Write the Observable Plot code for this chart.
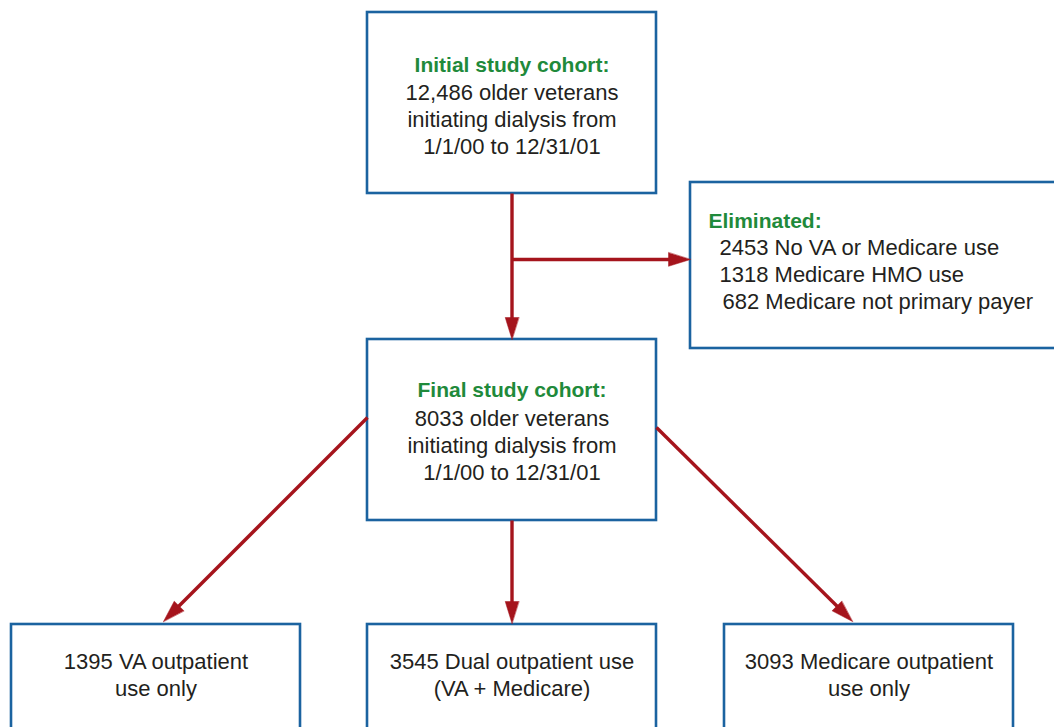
<!DOCTYPE html>
<html>
<head>
<meta charset="utf-8">
<script src="https://cdn.jsdelivr.net/npm/d3@7"></script>
<script src="https://cdn.jsdelivr.net/npm/@observablehq/plot@0.6"></script>
<style>
  html, body { margin: 0; padding: 0; background: #ffffff; overflow: hidden; }
  #chart svg { display: block; }
</style>
</head>
<body>
<div id="chart"></div>
<script>
// ---- Data ----
const stageTitles = ["Initial study cohort:", "Final study cohort:"];
const stageCounts = ["12,486", "8033"];
const stageDescription = ["older veterans", "initiating dialysis from", "1/1/00 to 12/31/01"];
const eliminatedTitle = "Eliminated:";
const eliminatedCounts = ["2453", "1318", "682"];
const eliminatedReasons = ["No VA or Medicare use", "Medicare HMO use", "Medicare not primary payer"];
const outcomeCounts = ["1395", "3545", "3093"];
const outcomeLabels = [["VA outpatient", "use only"], ["Dual outpatient use", "(VA + Medicare)"], ["Medicare outpatient", "use only"]];

// ---- Layout (pixel space of the flowchart) ----
const W = 1054, H = 727;
const stageBoxes = [
  {x1: 367, x2: 656, y1: 12, y2: 193, titleY: 65},
  {x1: 367, x2: 656, y1: 339, y2: 520, titleY: 390}
];
const elimBox = {x1: 690, x2: 1075, y1: 182, y2: 348, titleX: 708, textX: 719, titleY: 221};
const outcomeBoxes = [
  {x1: 11, x2: 300, y1: 624, y2: 760},
  {x1: 367, x2: 656, y1: 624, y2: 760},
  {x1: 724, x2: 1013, y1: 624, y2: 760}
];
const lineH = 27;
const outcomeY = 661;
const elimSplitY = 259;

const red = "#a5141c", blue = "#1b63a0", green = "#1f8a3b", ink = "#231f20";

// boxes
const boxes = [...stageBoxes, elimBox, ...outcomeBoxes];

// centred text lines
const titles = stageTitles.map((t, i) => ({text: t, x: (stageBoxes[i].x1 + stageBoxes[i].x2) / 2, y: stageBoxes[i].titleY}));
const bodyLines = [];
stageTitles.forEach((t, i) => {
  const b = stageBoxes[i];
  const lines = [`${stageCounts[i]} ${stageDescription[0]}`, stageDescription[1], stageDescription[2]];
  lines.forEach((l, j) => bodyLines.push({text: l, x: (b.x1 + b.x2) / 2, y: b.titleY + lineH * (j + 1) + (i === 1 ? 1 : 0)}));
});
outcomeCounts.forEach((c, i) => {
  const b = outcomeBoxes[i];
  const lines = [`${c} ${outcomeLabels[i][0]}`, outcomeLabels[i][1]];
  lines.forEach((l, j) => bodyLines.push({text: l, x: (b.x1 + b.x2) / 2, y: outcomeY + lineH * j}));
});
// left-aligned text lines (eliminated box)
const elimLines = eliminatedCounts.map((c, j) => ({
  text: `${c} ${eliminatedReasons[j]}`,
  x: elimBox.textX + (c.length < 4 ? 3 : 0),
  y: elimBox.titleY + lineH * (j + 1) - 0.5
}));
const elimTitle = [{text: eliminatedTitle, x: elimBox.titleX, y: elimBox.titleY}];

// arrows (start -> tip)
const s0 = stageBoxes[0], s1 = stageBoxes[1];
const cx = (s0.x1 + s0.x2) / 2;
const arrows = [
  {x1: cx, y1: s0.y2, x2: cx, y2: s1.y1},
  {x1: cx, y1: elimSplitY, x2: elimBox.x1, y2: elimSplitY},
  {x1: s1.x1, y1: 417, x2: 163, y2: outcomeBoxes[0].y1 - 3},
  {x1: cx, y1: s1.y2, x2: cx, y2: outcomeBoxes[1].y1 - 1},
  {x1: s1.x2, y1: 427, x2: 852, y2: outcomeBoxes[2].y1 - 3}
].map(a => {
  const dx = a.x2 - a.x1, dy = a.y2 - a.y1, len = Math.hypot(dx, dy);
  const back = 12;
  return {...a, lx2: a.x2 - dx / len * back, ly2: a.y2 - dy / len * back,
          rotate: Math.atan2(dx, -dy) * 180 / Math.PI};
});

const triangle = {
  draw(context, l) {
    const w = 6.8;
    context.moveTo(0, -l);
    context.lineTo(w, 0);
    context.lineTo(-w, 0);
    context.closePath();
  }
};

const chart = Plot.plot({
  width: W,
  height: H,
  margin: 0,
  x: {domain: [0, W], range: [0, W], axis: null},
  y: {domain: [0, H], range: [0, H], axis: null},
  style: {background: "#ffffff", fontFamily: "'Liberation Sans', Arial, sans-serif"},
  marks: [
    Plot.rect(boxes, {x1: "x1", x2: "x2", y1: "y1", y2: "y2", fill: "#ffffff", stroke: blue, strokeWidth: 2.6}),
    Plot.link(arrows, {x1: "x1", y1: "y1", x2: "lx2", y2: "ly2", stroke: red, strokeWidth: 3.4}),
    Plot.vector(arrows, {x: "x2", y: "y2", rotate: "rotate", length: 22, anchor: "end", shape: triangle, fill: red, stroke: red, strokeWidth: 0.5}),
    Plot.text(bodyLines, {x: "x", y: "y", text: "text", textAnchor: "middle", fontSize: 22, fill: ink}),
    Plot.text(elimLines, {x: "x", y: "y", text: "text", textAnchor: "start", fontSize: 22, fill: ink}),
    Plot.text(titles, {x: "x", y: "y", text: "text", textAnchor: "middle", fontSize: 21, fontWeight: "bold", fill: green}),
    Plot.text(elimTitle, {x: "x", y: "y", text: "text", textAnchor: "start", fontSize: 21, fontWeight: "bold", fill: green})
  ]
});
document.getElementById("chart").append(chart);
</script>
</body>
</html>
